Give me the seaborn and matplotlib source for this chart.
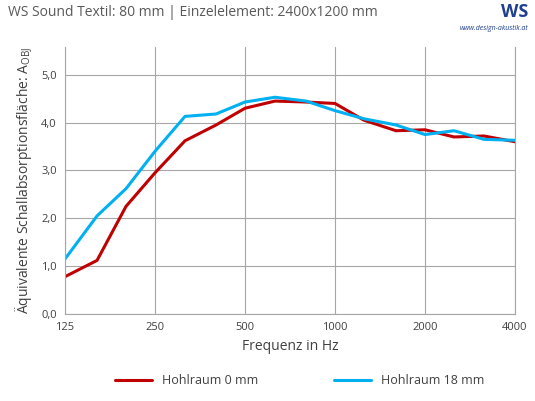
import matplotlib
matplotlib.use("Agg")
import matplotlib.pyplot as plt
import numpy as np
import pandas as pd
import seaborn as sns

freqs = [125, 160, 200, 250, 315, 400, 500, 630, 800, 1000, 1250, 1600, 2000, 2500, 3150, 4000]
hohlraum_0 = [0.78, 1.12, 2.25, 2.95, 3.62, 3.95, 4.30, 4.45, 4.43, 4.40, 4.05, 3.83, 3.85, 3.70, 3.72, 3.60]
hohlraum_18 = [1.15, 2.05, 2.62, 3.40, 4.13, 4.18, 4.43, 4.53, 4.45, 4.25, 4.08, 3.95, 3.75, 3.83, 3.65, 3.63]
xticks = [125, 250, 500, 1000, 2000, 4000]
yticks = [0, 1, 2, 3, 4, 5]

df = pd.DataFrame({
    "Frequenz": freqs * 2,
    "A": hohlraum_0 + hohlraum_18,
    "Serie": ["Hohlraum 0 mm"] * len(freqs) + ["Hohlraum 18 mm"] * len(freqs),
})

sns.set_theme(style="white")
plt.rcParams["font.family"] = ["Open Sans", "DejaVu Sans"]

fig = plt.figure(figsize=(5.35, 4.01), dpi=100)
ax = fig.add_axes([65 / 535, 1 - 314 / 401, 450 / 535, 267 / 401])
sns.lineplot(data=df, x="Frequenz", y="A", hue="Serie",
             palette=["#c00000", "#00b0f0"], linewidth=2.2, ax=ax, legend=False)
ax.set_xscale("log")
ax.set_xlim(125, 4000)
ax.set_ylim(0, 5.58)
ax.set_xticks(xticks)
ax.set_xticklabels([str(t) for t in xticks], fontsize=8, color="#404040")
ax.minorticks_off()
ax.set_yticks(yticks)
ax.set_yticklabels([f"{t:.1f}".replace(".", ",") for t in yticks], fontsize=8, color="#404040")
ax.grid(True, color="#a6a6a6", linewidth=0.8)
for s in ax.spines.values():
    s.set_color("#a6a6a6")
    s.set_linewidth(0.8)
ax.spines["top"].set_visible(False)
ax.tick_params(length=0, pad=6)
ax.set_xlabel("Frequenz in Hz", fontsize=10, color="#404040")
ax.set_ylabel("Äquivalente Schallabsorptionsfläche: A$_{\\mathregular{OBJ}}$", fontsize=10, color="#404040")

fig.text(8 / 535, 1 - 13 / 401, "WS Sound Textil: 80 mm | Einzelelement: 2400x1200 mm",
         fontsize=10, color="#595959", va="center")
fig.text(528 / 535, 1 - 28 / 401, "www.design-akustik.at", fontsize=5, color="#1f3f8f",
         ha="right", va="center", style="italic")
fig.text(528 / 535, 1 - 12 / 401, "WS", fontsize=13, color="#1f3f8f", ha="right",
         va="center", weight="bold")

handles = [plt.Line2D([], [], color="#c00000", lw=2.2), plt.Line2D([], [], color="#00b0f0", lw=2.2)]
fig.legend(handles, ["Hohlraum 0 mm", "Hohlraum 18 mm"], loc="center",
           bbox_to_anchor=(0.56, 1 - 381 / 401), ncol=2, frameon=False,
           fontsize=9, handlelength=3, columnspacing=6,
           labelcolor="#404040")
fig.savefig("out.png", dpi=100)
